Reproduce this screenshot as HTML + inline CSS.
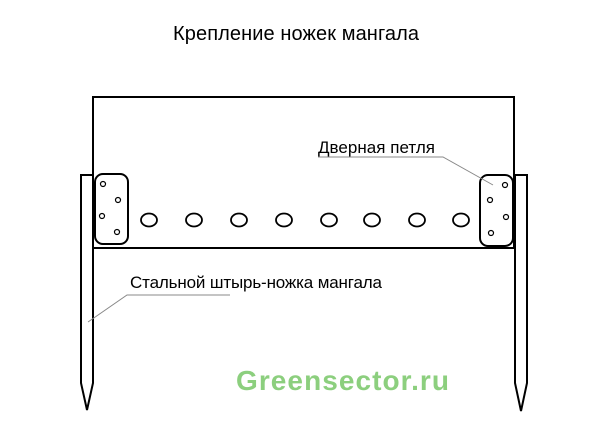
<!DOCTYPE html>
<html><head><meta charset="utf-8"><style>html,body{margin:0;padding:0;background:#fff}svg{display:block}</style></head>
<body>
<svg width="600" height="436" viewBox="0 0 600 436" xmlns="http://www.w3.org/2000/svg">
<text x="173" y="40" font-family="Liberation Sans, sans-serif" font-size="20" fill="#000" textLength="246">Крепление ножек мангала</text>
<g fill="none" stroke="#000" stroke-width="2">
<rect x="93" y="97" width="421" height="151"/>
<path d="M81,383 V175 H93 V383 L87,410 Z"/>
<path d="M515,383 V175 H527 V383 L521,411 Z"/>
<rect x="95" y="174" width="33" height="70" rx="8"/>
<rect x="480" y="175" width="33" height="71" rx="8"/>
</g>
<g fill="none" stroke="#000" stroke-width="1.8">
<ellipse cx="149" cy="220" rx="8" ry="6.5"/><ellipse cx="194" cy="220" rx="8" ry="6.5"/>
<ellipse cx="239" cy="220" rx="8" ry="6.5"/><ellipse cx="284" cy="220" rx="8" ry="6.5"/>
<ellipse cx="329" cy="220" rx="8" ry="6.5"/><ellipse cx="372" cy="220" rx="8" ry="6.5"/>
<ellipse cx="417" cy="220" rx="8" ry="6.5"/><ellipse cx="461" cy="220" rx="8" ry="6.5"/>
</g>
<g fill="none" stroke="#000" stroke-width="1.2">
<circle cx="103" cy="184" r="2.5"/><circle cx="118" cy="200" r="2.5"/><circle cx="102" cy="216" r="2.5"/><circle cx="117" cy="232" r="2.5"/>
<circle cx="505" cy="185" r="2.5"/><circle cx="490" cy="200" r="2.5"/><circle cx="506" cy="217" r="2.5"/><circle cx="491" cy="233" r="2.5"/>
</g>
<g stroke="#888" stroke-width="1" fill="none">
<path d="M318,157 H443 L493,185"/>
<path d="M230,295 H127 L88,322"/>
</g>
<text x="318" y="153" font-family="Liberation Sans, sans-serif" font-size="17" fill="#000" textLength="117">Дверная петля</text>
<text x="130" y="288" font-family="Liberation Sans, sans-serif" font-size="17" fill="#000" textLength="252">Стальной штырь-ножка мангала</text>
<text x="236" y="390" font-family="Liberation Sans, sans-serif" font-size="28" font-weight="bold" fill="#8ccf7e" textLength="213">Greensector.ru</text>
</svg>
</body></html>
